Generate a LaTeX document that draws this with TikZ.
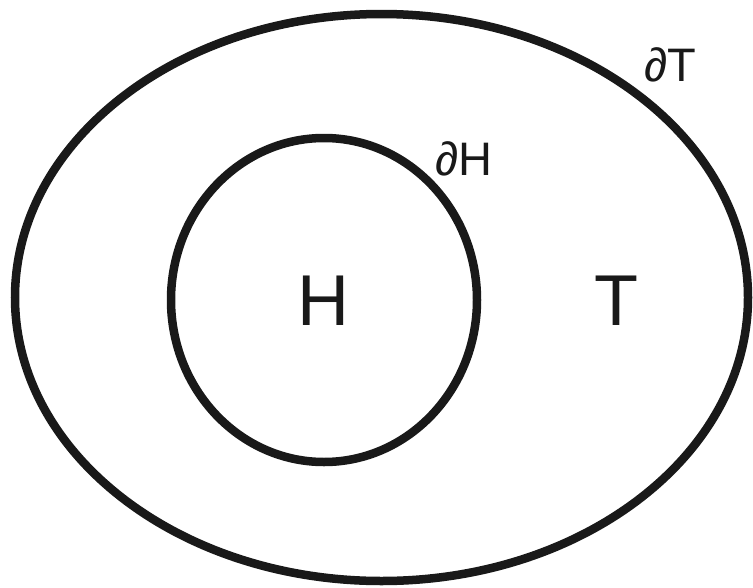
\documentclass[tikz,border=0pt]{standalone}
\usepackage{fontspec}
\setmainfont{Liberation Sans}
\begin{document}
\begin{tikzpicture}[x=1pt,y=-1pt,
  bound/.style={line width=8.5pt, draw=black!90},
  big/.style={font=\fontsize{72}{72}\selectfont, inner sep=0pt, text=black!90},
  small/.style={font=\fontsize{47}{47}\selectfont, inner sep=0pt, text=black!90}]
\useasboundingbox (0,0) rectangle (753,587);
\draw[bound] (381.5,297.5) ellipse [x radius=366.5, y radius=283.5];
\draw[bound] (324,300) ellipse [x radius=153, y radius=162];
\node[big] (H) at (323.5,301) {H};
\node[big] (T) at (616,301) {T};
\node[small] (dH) at (464,159) {∂H};
\node[small] (dT) at (670,65) {∂T};
\end{tikzpicture}
\end{document}
